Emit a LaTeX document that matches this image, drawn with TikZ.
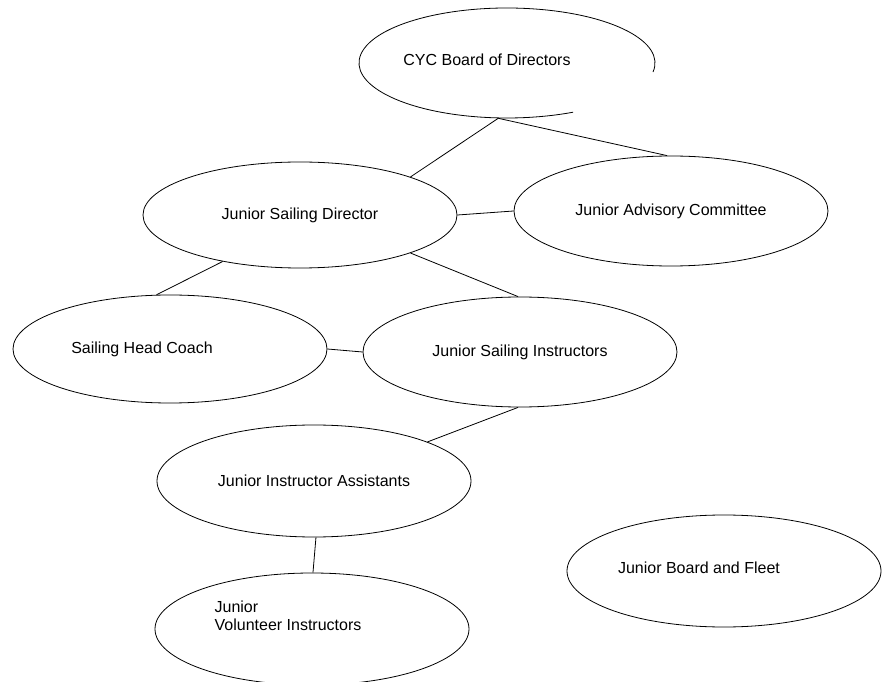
\documentclass[tikz,border=0pt]{standalone}
\usepackage{fontspec}
\setmainfont{Liberation Sans}
\usetikzlibrary{shapes.geometric}

\begin{document}
\begin{tikzpicture}[
    x=1pt, y=1pt,
    font=\fontsize{16}{18}\selectfont,
    oval/.style={ellipse, draw, line width=0.8pt, minimum width=314pt, minimum height=110pt, inner sep=0pt},
    line/.style={draw, line width=0.8pt}
]
    \useasboundingbox (0,0) rectangle (892,681);
    \clip (0,0) rectangle (892,681);

    % Nodes
    \node[oval, draw=none, minimum width=296pt, label={[xshift=-20pt, yshift=3pt]center:CYC Board of Directors}] (board) at (507,618) {};
    \node[oval, minimum height=106pt] (director) at (300,466) {Junior Sailing Director};
    \node[oval] (advisory) at (671,470) {Junior Advisory Committee};
    \node[oval, minimum height=108pt, label={[xshift=-28pt]center:Sailing Head Coach}] (coach) at (170,332) {};
    \node[oval] (instructors) at (520,329) {Junior Sailing Instructors};
    \node[oval, minimum height=112pt] (assistants) at (314,200) {Junior Instructor Assistants};
    \node[oval, minimum height=112pt, label={[xshift=-24pt, yshift=13pt, align=left]center:Junior\\Volunteer Instructors}] (volunteer) at (312,52) {};
    \node[oval, minimum height=112pt, label={[xshift=-25pt, yshift=3pt]center:Junior Board and Fleet}] (fleet) at (724,110) {};

    % Board outline, left open at the lower right
    \draw[line width=0.8pt] ([shift={(board.center)}]-9.5:148 and 55) arc[start angle=-9.5, end angle=296.5, x radius=148, y radius=55];

    % Lines
    \path[line] (board.261) -- (director.19);
    \path[line] (board.261) -- (advisory.94);
    \path[line] (director.0) -- (advisory.180);
    \path[line] (director.-19) -- (instructors.92);
    \path[line] (director.211) -- (coach.104);
    \path[line] (coach.0) -- (instructors.180);
    \path[line] (instructors.268) -- (assistants.19);
    \path[line] (assistants.272) -- (volunteer.89);

\end{tikzpicture}
\end{document}
